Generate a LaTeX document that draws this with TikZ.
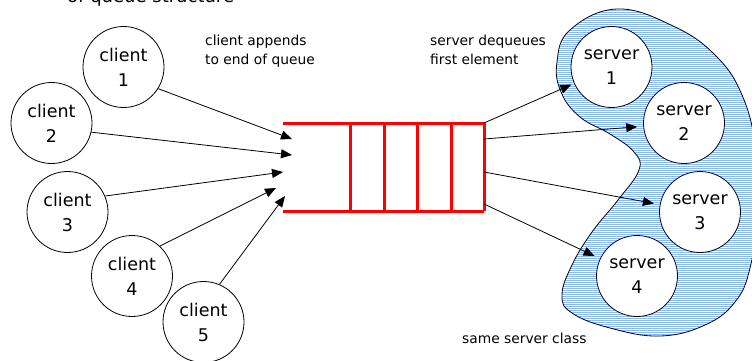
\documentclass[tikz,border=0pt]{standalone}
\usepackage{fontspec}
\setmainfont{DejaVu Sans}
\definecolor{qred}{RGB}{255, 0, 0}
\definecolor{srvblue}{RGB}{140, 185, 240}
\usetikzlibrary{arrows.meta, automata}

\begin{document}
\begin{tikzpicture}[x=1pt, y=-1pt, -, inner sep=0pt,
  every state/.style={draw=black, line width=0.8pt, fill=white, minimum size=81pt,
                      align=center, font=\fontsize{17.5}{25}\selectfont},
  enq/.style={-{Triangle[length=11pt, width=9pt]}, line width=0.8pt},
  deq/.style={enq, shorten >=6pt},
  lbl/.style={anchor=base west, align=left, font=\fontsize{13.8}{19}\selectfont},
  qline/.style={draw=qred, line width=3pt}]

\useasboundingbox (0,0) rectangle (752,361);

% server class blob
\def\blobpath{plot[smooth cycle, tension=0.7] coordinates {(617,9) (673,26) (715,55) (742,95) (756,150)
    (758,210) (750,268) (735,302) (705,325) (660,336) (610,328) (572,313) (562,295)
    (572,265) (592,232) (618,200) (639,170) (634,152) (610,134) (580,117) (561,92)
    (557,62) (570,30)}}
\begin{scope}
  \clip \blobpath;
  \foreach \y in {0.5, 2.5, ..., 345.5}
    \draw[srvblue, line width=1pt] (550,\y) -- (760,\y);
\end{scope}
\draw[line width=0.8pt] \blobpath;

  \node[state] (c1) at (123.5, 67)  {client\\1};
  \node[state] (c2) at (51.5, 123)  {client\\2};
  \node[state] (c3) at (67.5, 212)  {client\\3};
  \node[state] (c4) at (132, 276)   {client\\4};
  \node[state] (c5) at (203.5, 322) {client\\5};

  \node[state] (s1) at (611.5, 67) {server\\1};
  \node[state] (s2) at (684, 123)  {server\\2};
  \node[state] (s3) at (700, 212)  {server\\3};
  \node[state] (s4) at (637, 276)  {server\\4};

% queue
\draw[qline] (283,123) -- (484,123);
\draw[qline] (283,211) -- (484,211);
\foreach \x in {350, 384, 417, 451, 484}
  \draw[qline] (\x,123) -- (\x,211);

  \coordinate (in1) at (292, 139);
  \coordinate (in2) at (292, 155);
  \coordinate (in3) at (283, 172);
  \coordinate (in4) at (276, 188);
  \coordinate (in5) at (285, 196);
  \coordinate (q1) at (484, 123);
  \coordinate (q2) at (484, 139);
  \coordinate (q3) at (484, 172);
  \coordinate (q4) at (484, 204);

  \path (c1.-32) edge [enq] (in1)
        (c2.-13) edge [enq] (in2)
        (c3.23)  edge [enq] (in3)
        (c4.47)  edge [enq] (in4)
        (c5.67)  edge [enq] (in5)
        (q1) edge [deq, shorten >=3pt] (s1)
        (q2) edge [deq] (s2)
        (q3) edge [deq] (s3)
        (q4) edge [deq] (s4)
        ;

\node[lbl] (tapp) at (205, 64) {client appends\\to end of queue};
\node[lbl] (tdeq) at (430, 64) {server dequeues\\first element};
\node[lbl] (tcls) at (462, 343) {same server class};
\node[anchor=base west, font=\fontsize{18}{22}\selectfont] (ttl) at (67, 3) {of queue structure};

\end{tikzpicture}
\end{document}
